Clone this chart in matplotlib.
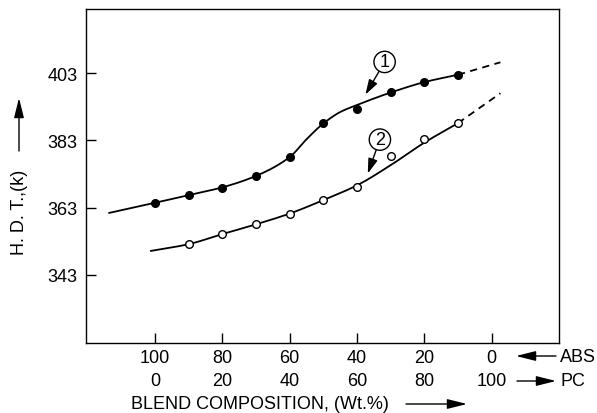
import numpy as np
import matplotlib
matplotlib.use("Agg")
import matplotlib.pyplot as plt
from matplotlib.patches import FancyArrowPatch

plt.rcParams['font.family'] = ['Liberation Sans', 'DejaVu Sans']

# Measured points (PC wt.%)
pc_points = [0, 10, 20, 30, 40, 50, 60, 70, 80, 90]
hdt_blend1 = [364.4, 366.7, 368.9, 372.4, 378.1, 388.0, 392.3, 397.4, 400.4, 402.4]
pc_points2 = [10, 20, 30, 40, 50, 60, 70, 80, 90]
hdt_blend2 = [352.1, 355.1, 358.0, 361.2, 365.2, 369.2, 378.3, 383.3, 388.1]

# Hand-drawn trend curves (knots)
fit1_pc = [-13.6, 0, 10, 20, 30, 40, 45, 50, 55, 60, 70, 80, 90]
fit1_hdt = [361.4, 364.4, 366.7, 369.0, 372.4, 378.0, 383.3, 388.0, 391.4, 393.5, 397.2, 400.3, 402.5]
ext1_pc = [90, 102.6]
ext1_hdt = [402.5, 406.2]

fit2_pc = [-1.2, 10, 20, 30, 40, 50, 60, 70, 80, 90]
fit2_hdt = [350.1, 352.1, 355.1, 358.0, 361.2, 365.2, 369.6, 375.6, 382.3, 388.1]
ext2_pc = [90, 102.6]
ext2_hdt = [388.1, 397.0]

# Axis labelling
pc_ticks = [0, 20, 40, 60, 80, 100]
abs_labels = ['100', '80', '60', '40', '20', '0']
pc_labels = ['0', '20', '40', '60', '80', '100']
y_ticks = [343, 363, 383, 403]

FS = 13


def pchip(x, y, xs):
    x = np.asarray(x, float)
    y = np.asarray(y, float)
    h = np.diff(x)
    d = np.diff(y) / h
    m = np.zeros_like(y)
    for k in range(1, len(x) - 1):
        if d[k - 1] * d[k] > 0:
            w1 = 2 * h[k] + h[k - 1]
            w2 = h[k] + 2 * h[k - 1]
            m[k] = (w1 + w2) / (w1 / d[k - 1] + w2 / d[k])
    m[0] = d[0]
    m[-1] = d[-1]
    idx = np.clip(np.searchsorted(x, xs) - 1, 0, len(x) - 2)
    t = (xs - x[idx]) / h[idx]
    h00 = 2 * t**3 - 3 * t**2 + 1
    h10 = t**3 - 2 * t**2 + t
    h01 = -2 * t**3 + 3 * t**2
    h11 = t**3 - t**2
    return (h00 * y[idx] + h10 * h[idx] * m[idx]
            + h01 * y[idx + 1] + h11 * h[idx] * m[idx + 1])


W, H = 597, 414
fig = plt.figure(figsize=(W / 100, H / 100), dpi=100)
ax = fig.add_axes([86 / W, 1 - 344 / H, (559 - 86) / W, (344 - 9.5) / H])

lw = 1.3
xs1 = np.linspace(fit1_pc[0], fit1_pc[-1], 300)
ax.plot(xs1, pchip(fit1_pc, fit1_hdt, xs1), color='black', lw=lw)
ax.plot(ext1_pc, ext1_hdt, color='black', lw=lw, dashes=(4, 3))
xs2 = np.linspace(fit2_pc[0], fit2_pc[-1], 300)
ax.plot(xs2, pchip(fit2_pc, fit2_hdt, xs2), color='black', lw=lw)
ax.plot(ext2_pc, ext2_hdt, color='black', lw=lw, dashes=(4, 3))

ax.plot(pc_points, hdt_blend1, 'o', color='black', ms=5.5, zorder=3)
ax.plot(pc_points2, hdt_blend2, 'o', mfc='white', mec='black', mew=1.0,
        ms=5.5, zorder=3)

# Curve numbers with pointer arrows
for num, (cx, cy), (tx, ty) in [('1', (68.2, 406.3), (62.5, 396.6)),
                                ('2', (66.8, 383.2), (63.2, 373.1))]:
    ax.annotate(num, xy=(tx, ty), xytext=(cx, cy), ha='center', va='center',
                fontsize=FS,
                bbox=dict(boxstyle='circle,pad=0.12', fc='white', ec='black', lw=1.0),
                arrowprops=dict(arrowstyle='-|>,head_length=0.7,head_width=0.22',
                                color='black', lw=1.0, shrinkA=0, shrinkB=0))

ax.set_xlim(-20.5, 120)
ax.set_ylim(322.7, 422.2)
for s in ['top', 'right', 'left', 'bottom']:
    ax.spines[s].set_linewidth(1.0)

ax.set_yticks(y_ticks)
ax.set_yticklabels([str(v) for v in y_ticks], fontsize=FS)
ax.set_xticks(pc_ticks)
ax.set_xticklabels(abs_labels, fontsize=FS)
ax.tick_params(direction='in', length=7, width=1.0, pad=6)
ax.tick_params(axis='x', pad=4.5)

trans = ax.get_xaxis_transform()
for x, lab in zip(pc_ticks, pc_labels):
    ax.text(x, -(382 - 344) / (344 - 9.5), lab, transform=trans, ha='center',
            va='center', fontsize=FS, clip_on=False)


def fig_arrow(p0, p1):
    fig.add_artist(FancyArrowPatch(
        (p0[0] / W, 1 - p0[1] / H), (p1[0] / W, 1 - p1[1] / H),
        transform=fig.transFigure,
        arrowstyle='-|>,head_length=1.2,head_width=0.3', mutation_scale=10,
        color='black', lw=1.0, shrinkA=0, shrinkB=0))


# Composition arrows and component names
fig.text(560 / W, 1 - 357 / H, 'ABS', ha='left', va='center', fontsize=FS)
fig.text(560 / W, 1 - 382 / H, 'PC', ha='left', va='center', fontsize=FS)
fig_arrow((556, 357), (516, 357))
fig_arrow((517, 382), (556, 382))

fig.text(131 / W, 1 - 405 / H, 'BLEND COMPOSITION, (Wt.%)', ha='left',
         va='center', fontsize=FS)
fig_arrow((406, 405), (467, 405))

fig.text(19 / W, 1 - 212 / H, 'H. D. T.,(k)', rotation=90, ha='center',
         va='center', fontsize=FS)
fig_arrow((19, 152), (19, 99))

fig.savefig('out.png', dpi=100)
